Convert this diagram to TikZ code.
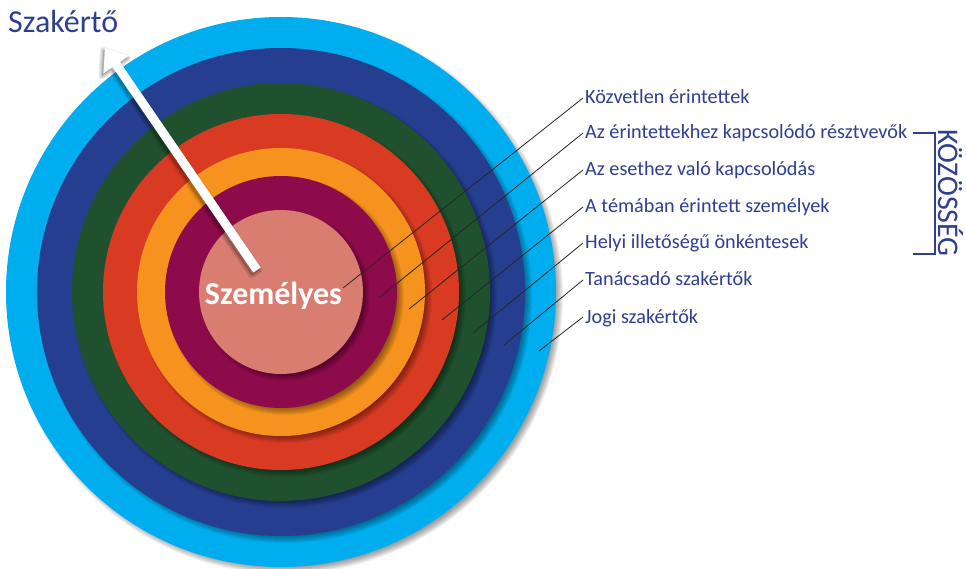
\documentclass[tikz,border=0pt]{standalone}
\usepackage{fontspec}
\setmainfont{Carlito}
\definecolor{cLight}{HTML}{00AEEF}
\definecolor{cNavy}{HTML}{253E8F}
\definecolor{cGreen}{HTML}{1F512E}
\definecolor{cRed}{HTML}{D83B22}
\definecolor{cOrange}{HTML}{F6921E}
\definecolor{cMagenta}{HTML}{8D0B4B}
\definecolor{cPink}{HTML}{D97D71}
\definecolor{cText}{HTML}{2E3F8F}
\newcommand\myring[2]{%
  \foreach \i in {1,...,8}{\fill[black,opacity=0.055] (285,296) circle[radius={(#1+4-\i)*1pt}];}
  \fill[#2] (281,292) circle[radius={#1*1pt}];
}
\newcommand\myarrowpath{(260.7,267.5) -- (120.0,62.0) -- (129.1,55.7) -- (105,48) -- (103.5,73.3) -- (112.6,67.0) -- (253.3,272.5) -- cycle}
\begin{document}
\begin{tikzpicture}[x=1pt,y=-1pt,
  lab/.style={anchor=base west, inner sep=0pt, text=cText, font=\fontsize{20.2}{22}\selectfont},
  lead/.style={draw=black!85, line width=0.8pt}]
\useasboundingbox (0,0) rectangle (966,569);
\fill[white] (0,0) rectangle (966,569);
% rings
\myring{275}{cLight}
\myring{244}{cNavy}
\myring{209}{cGreen}
\myring{178}{cRed}
\myring{144}{cOrange}
\myring{116}{cMagenta}
\myring{82}{cPink}
% arrow (white, with soft shadow)
\begin{scope}[shift={(-1.5,2.5)}]
\foreach \w in {1,3,5,7}{
  \draw[black, opacity=0.07, line width=\w pt, line join=round] \myarrowpath;
}
\fill[black, opacity=0.12] \myarrowpath;
\end{scope}
\fill[white] \myarrowpath;
\coordinate (aS) at (257,270);
\coordinate (aT) at (105,48);
% titles
\node[anchor=base west, inner sep=0pt, text=cText, font=\fontsize{32}{34}\selectfont] (szak) at (8,33) {Szakértő};
\node[anchor=base, inner sep=0pt, text=white, font=\bfseries\fontsize{32}{34}\selectfont] (szem) at (273.5,305) {Személyes};
% labels
\node[lab] (l1) at (585,104) {Közvetlen érintettek};
\node[lab] (l2) at (585,139) {Az érintettekhez kapcsolódó résztvevők};
\node[lab] (l3) at (585,176) {Az esethez való kapcsolódás};
\node[lab] (l4) at (585,213) {A témában érintett személyek};
\node[lab] (l5) at (585,249) {Helyi illetőségű önkéntesek};
\node[lab] (l6) at (585,286) {Tanácsadó szakértők};
\node[lab] (l7) at (585,323) {Jogi szakértők};
% leader coordinates
\coordinate (s1) at (583,98);  \coordinate (e1) at (343,288);
\coordinate (s2) at (583,133); \coordinate (e2) at (380,297);
\coordinate (s3) at (583,170); \coordinate (e3) at (409,309);
\coordinate (s4) at (583,207); \coordinate (e4) at (442,320);
\coordinate (s5) at (583,243); \coordinate (e5) at (473,333);
\coordinate (s6) at (583,280); \coordinate (e6) at (504,345);
\coordinate (s7) at (583,317); \coordinate (e7) at (539,351);
\foreach \k in {1,...,7}{\draw[lead] (s\k) -- (e\k);}
% bracket
\coordinate (b1) at (913,133);
\coordinate (b2) at (935,133);
\coordinate (b3) at (935,254);
\coordinate (b4) at (913,254);
\draw[cText, line width=2.2pt] (b1) -- (b2) -- (b3) -- (b4);
\node[rotate=-90, inner sep=0pt, text=cText, font=\fontsize{30}{32}\selectfont] (koz) at (950.5,193) {KÖZÖSSÉG};
\end{tikzpicture}
\end{document}
